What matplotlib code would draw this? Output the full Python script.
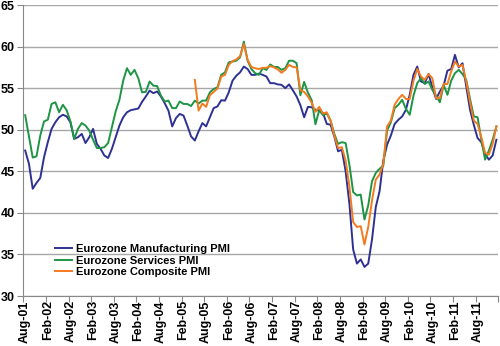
import numpy as np
import pandas as pd
import matplotlib
matplotlib.use("Agg")
import matplotlib.pyplot as plt

# ============================================================
# DATA (monthly, Aug-01 .. Jan-12)
# ============================================================

months = pd.date_range("2001-08-01", "2012-01-01", freq="MS")

manufacturing = [
    47.5, 45.9, 42.9, 43.6, 44.2,                                         # 2001 Aug-Dec
    46.7, 48.5, 50.1, 50.9, 51.5, 51.8, 51.6, 50.9, 48.9, 49.1, 49.5, 48.4,   # 2002
    49.1, 50.1, 48.3, 47.7, 46.9, 46.6, 47.7, 49.1, 50.5, 51.5, 52.1, 52.35,  # 2003
    52.45, 52.55, 53.35, 54.0, 54.7, 54.4, 54.6, 54.0, 53.2, 52.3, 50.4, 51.4,  # 2004
    51.9, 51.7, 50.5, 49.2, 48.7, 49.8, 50.8, 50.4, 51.5, 52.6, 52.8, 53.55,  # 2005
    53.5, 54.5, 55.9, 56.5, 56.9, 57.6, 57.3, 56.6, 56.6, 56.75, 56.6, 56.4,  # 2006
    55.6, 55.6, 55.45, 55.4, 55.0, 55.45, 54.75, 54.0, 52.95, 51.5, 52.75, 52.7,  # 2007
    52.4, 52.3, 52.0, 50.7, 50.6, 49.2, 47.4, 47.6, 45.0, 41.1, 35.6, 33.9,   # 2008
    34.4, 33.5, 33.9, 36.8, 40.7, 42.6, 46.3, 48.2, 49.3, 50.7, 51.2, 51.6,   # 2009
    52.4, 54.2, 56.6, 57.6, 55.8, 55.6, 56.7, 55.1, 53.7, 54.6, 55.3, 57.1,   # 2010
    57.3, 59.0, 57.5, 58.0, 55.2, 52.4, 50.6, 49.0, 48.5, 47.1, 46.4, 46.9,   # 2011
    48.8,                                                                 # 2012 Jan
]

services = [
    51.75, 49.2, 46.65, 46.8, 49.3,
    51.0, 51.2, 53.1, 53.3, 52.1, 53.0, 52.35, 51.0, 48.9, 50.1, 50.8, 50.5,
    49.9, 48.8, 47.8, 47.8, 47.9, 48.4, 50.3, 52.2, 53.6, 55.9, 57.4, 56.6,
    57.2, 56.2, 54.5, 54.55, 55.8, 55.3, 55.25, 54.1, 53.4, 53.5, 52.6, 52.6,
    53.4, 53.1, 53.1, 52.85, 53.5, 53.15, 53.5, 53.5, 54.5, 54.9, 55.1, 56.6,
    56.9, 58.1, 58.2, 58.3, 58.7, 60.6, 58.3, 57.3, 56.8, 56.6, 57.4, 57.2,
    57.85, 57.55, 57.55, 57.2, 57.4, 58.3, 58.3, 58.0, 54.15, 55.75, 54.45, 53.55,
    50.65, 52.35, 51.75, 51.95, 51.1, 49.5, 48.3, 48.5, 48.4, 45.8, 42.5, 42.1,
    42.2, 39.2, 40.9, 43.8, 44.8, 45.3, 45.7, 49.9, 50.9, 52.6, 53.0, 53.6,
    52.5, 51.8, 54.1, 55.6, 56.2, 55.5, 55.8, 54.8, 54.1, 53.3, 55.4, 54.2,
    55.9, 56.8, 57.2, 56.7, 56.0, 53.7, 51.6, 51.5, 48.8, 46.4, 47.5, 48.8,
    50.4,
]

# composite series starts in May-05
composite_start = "2005-05-01"
composite = [
    56.0, 52.3, 53.15, 52.75, 54.15, 54.55, 54.95, 56.4,
    56.6, 57.8, 58.25, 58.45, 58.85, 60.3, 58.4, 57.55, 57.4, 57.3, 57.45, 57.45,
    57.65, 57.5, 57.25, 56.85, 57.2, 57.8, 57.55, 57.5, 54.75, 54.55, 54.0, 53.25,
    52.15, 52.75, 51.95, 52.1, 51.1, 49.3, 47.8, 47.9, 46.3, 43.2, 38.9, 38.3,
    38.4, 36.2, 38.3, 41.5, 44.0, 44.6, 45.9, 50.4, 51.1, 53.0, 53.7, 54.2,
    53.7, 53.7, 55.9, 57.3, 56.4, 56.0, 56.7, 56.2, 53.8, 53.8, 55.5, 55.5,
    57.0, 58.2, 57.6, 57.8, 55.8, 53.3, 51.1, 50.7, 49.1, 47.2, 47.0, 48.3,
    50.4,
]

labels = ["Eurozone Manufacturing PMI", "Eurozone Services PMI", "Eurozone Composite PMI"]
colors = ["#2E3192", "#1E9445", "#F47A20"]

# ============================================================
# PLOT
# ============================================================

plt.rcParams["font.family"] = ["Liberation Sans", "DejaVu Sans"]
plt.rcParams["font.weight"] = "bold"

x = np.arange(len(months))
k0 = months.get_loc(pd.Timestamp(composite_start))
comp_full = np.full(len(months), np.nan)
comp_full[k0:k0 + len(composite)] = composite

fig = plt.figure(figsize=(5.0, 3.46), dpi=100)
ax = fig.add_axes([0.0466, 0.1445, 0.95, 0.841])

for y, lab, c in zip([manufacturing, services, comp_full], labels, colors):
    ax.plot(x, y, color=c, lw=1.4, label=lab)

ax.set_xlim(-0.5, len(months) - 0.5)
ax.set_ylim(30, 65)
ax.set_yticks(np.arange(30, 66, 5))
ax.grid(axis="y", color="#A8A8A8", lw=1.0)
ax.set_axisbelow(True)

# category axis: tick marks between categories, labels every 6 months
ax.set_xticks(np.arange(-0.5, len(months), 6))
ax.set_xticklabels([])
lab_pos = np.arange(0, len(months), 6)
ax.set_xticks(lab_pos, minor=True)
ax.set_xticklabels([months[i].strftime("%b-%y") for i in lab_pos], minor=True,
                   rotation=90, fontsize=9, fontweight="bold")
ax.tick_params(axis="x", which="minor", length=0, pad=3)
ax.tick_params(axis="x", which="major", length=4, color="#888888")
ax.tick_params(axis="y", length=4, color="#888888", labelsize=9, pad=2)

for s in ["top", "right"]:
    ax.spines[s].set_visible(False)
for s in ["left", "bottom"]:
    ax.spines[s].set_color("#888888")

ax.legend(loc="upper left", bbox_to_anchor=(0.066, 0.178), frameon=False,
          fontsize=8, handlelength=1.6, handletextpad=0.3, labelspacing=0.12,
          borderpad=0, borderaxespad=0)

fig.savefig("out.png", dpi=100)
